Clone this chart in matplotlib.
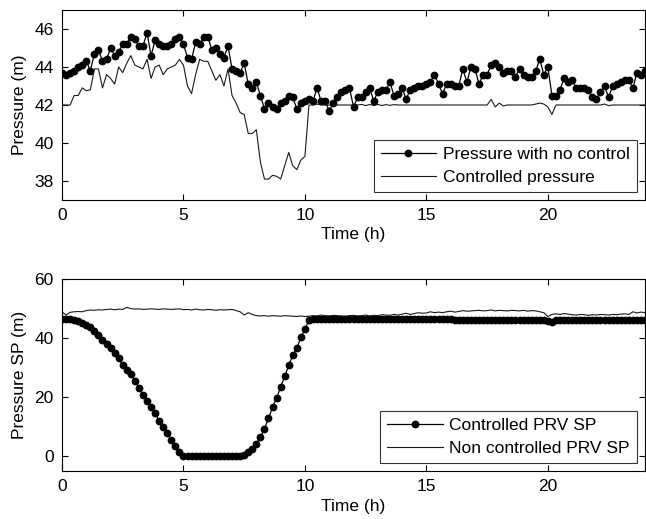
import numpy as np
import matplotlib
matplotlib.use("Agg")
import matplotlib.pyplot as plt

plt.rcParams['font.family'] = ['Liberation Sans', 'DejaVu Sans']

# time axis: 10-minute steps over 24 h
time_h = [i / 6 for i in range(145)]

p_no_control = [
    43.7, 43.6, 43.7, 43.8, 44.0, 44.1, 44.3, 43.8, 44.7, 44.9,
    44.3, 44.4, 45.0, 44.6, 44.8, 45.2, 45.2, 45.6, 45.5, 45.1,
    45.1, 45.8, 44.6, 45.4, 45.2, 45.1, 45.1, 45.2, 45.5, 45.6,
    45.2, 44.5, 44.4, 45.3, 45.2, 45.6, 45.6, 44.9, 45.0, 44.7,
    44.5, 45.1, 43.9, 43.8, 43.7, 44.2, 43.1, 42.9, 43.2, 42.5,
    41.8, 42.1, 41.9, 41.8, 42.1, 42.2, 42.5, 42.4, 41.8, 42.1,
    42.2, 42.3, 42.2, 42.9, 42.2, 42.2, 41.7, 42.1, 42.4, 42.7,
    42.8, 42.9, 41.9, 42.4, 42.4, 42.7, 42.9, 42.2, 42.7, 42.8,
    42.8, 43.2, 42.5, 42.6, 42.9, 42.3, 42.8, 42.9, 43.0, 43.0,
    43.1, 43.2, 43.6, 43.1, 42.6, 43.1, 43.1, 43.0, 43.0, 43.9,
    43.2, 44.0, 43.9, 43.1, 43.6, 43.6, 44.1, 44.2, 44.0, 43.7,
    43.8, 43.8, 43.5, 43.9, 43.6, 43.5, 43.5, 43.8, 44.4, 43.6,
    44.0, 42.5, 42.5, 42.8, 43.4, 43.2, 43.3, 42.9, 42.9, 42.9,
    42.8, 42.4, 42.3, 42.7, 43.0, 42.4, 43.0, 43.1, 43.2, 43.3,
    43.3, 42.9, 43.7, 43.6, 43.8,
]

p_controlled = [
    42.0, 42.0, 42.0, 42.5, 42.5, 42.9, 42.75, 42.8, 43.9, 43.9,
    42.9, 43.6, 43.4, 43.1, 44.0, 43.7, 44.2, 44.6, 44.1, 44.0,
    43.9, 44.4, 43.4, 44.0, 44.1, 43.6, 43.9, 44.0, 44.1, 44.4,
    44.1, 43.0, 42.6, 43.6, 44.4, 44.3, 44.3, 43.8, 43.3, 43.6,
    43.0, 43.9, 42.5, 42.1, 41.6, 41.5, 40.5, 40.5, 40.7, 39.0,
    38.1, 38.1, 38.3, 38.25, 38.1, 38.8, 39.5, 38.8, 38.6, 39.1,
    39.3, 42.0, 42.0, 42.05, 42.0, 42.0, 42.0, 42.0, 42.0, 42.0,
    42.0, 42.0, 42.0, 42.0, 42.03, 41.97, 42.03, 41.97, 42.03, 41.97,
    42.02, 41.98, 42.02, 42.0, 42.0, 42.0, 42.0, 42.0, 42.0, 42.0,
    42.0, 42.0, 42.0, 42.0, 42.0, 42.0, 42.0, 42.0, 42.0, 42.0,
    42.0, 42.0, 42.0, 42.0, 42.0, 42.0, 42.3, 41.9, 42.1, 41.95,
    42.0, 42.0, 42.0, 42.0, 42.0, 42.0, 42.0, 42.05, 42.1, 42.05,
    41.9, 41.5, 42.0, 42.0, 42.0, 42.0, 42.0, 42.0, 42.0, 42.0,
    42.0, 42.0, 42.0, 42.0, 42.05, 41.97, 42.0, 42.0, 42.0, 42.0,
    42.0, 42.0, 42.0, 42.0, 42.0,
]

sp_controlled = [
    46.3, 46.3, 46.3, 46.2, 45.8, 45.2, 44.4, 43.6, 42.5, 41.2,
    39.3, 38.0, 36.6, 35.0, 33.1, 30.8, 29.2, 27.7, 25.6, 23.2,
    20.7, 18.6, 16.8, 14.6, 11.9, 10.0, 7.7, 5.6, 3.6, 1.6,
    0.0, 0.0, 0.0, 0.0, 0.0, 0.0, 0.0, 0.0, 0.0, 0.0,
    0.0, 0.0, 0.0, 0.0, 0.0, 0.3, 1.5, 2.6, 4.3, 6.5,
    9.3, 12.8, 16.7, 19.6, 23.5, 27.0, 30.8, 34.2, 36.6, 40.2,
    43.0, 46.1, 46.3, 46.3, 46.3, 46.3, 46.3, 46.3, 46.3, 46.3,
    46.3, 46.3, 46.3, 46.3, 46.3, 46.3, 46.3, 46.3, 46.3, 46.3,
    46.3, 46.3, 46.3, 46.3, 46.3, 46.3, 46.3, 46.3, 46.3, 46.3,
    46.3, 46.3, 46.3, 46.3, 46.3, 46.3, 46.3, 46.1, 46.1, 46.1,
    46.1, 46.1, 46.1, 46.1, 46.1, 46.1, 46.1, 46.1, 46.1, 46.1,
    46.1, 46.1, 46.1, 46.1, 46.1, 46.1, 46.1, 46.1, 46.1, 46.1,
    45.9, 45.4, 46.1, 46.1, 46.1, 46.1, 46.1, 46.1, 46.1, 46.1,
    46.1, 46.1, 46.1, 46.1, 46.1, 46.1, 46.1, 46.1, 46.1, 46.1,
    46.1, 46.1, 46.1, 46.1, 46.1,
]

sp_non_controlled = [
    48.9, 47.8, 48.7, 48.9, 49.0, 48.9, 49.3, 49.5, 49.4, 49.6,
    49.5, 49.7, 49.8, 49.6, 49.8, 49.7, 50.4, 50.0, 49.8, 49.9,
    49.7, 49.8, 49.9, 49.8, 49.7, 49.9, 49.8, 49.7, 49.8, 49.9,
    49.6, 49.7, 49.5, 49.8, 49.6, 49.5, 49.7, 49.6, 49.4, 49.6,
    49.5, 49.6, 49.7, 49.3, 48.9, 47.8, 48.6, 48.0, 47.6, 47.5,
    47.6, 47.4, 47.6, 47.5, 47.4, 47.6, 47.5, 47.4, 47.3, 47.5,
    47.3, 47.4, 47.6, 47.5, 47.8, 47.6, 47.5, 47.7, 47.6, 47.5,
    47.4, 47.6, 47.7, 47.5, 47.6, 47.8, 47.5, 47.7, 47.6, 47.9,
    47.8, 47.7, 48.0, 47.8, 48.1, 48.4, 48.0, 48.3, 48.6, 48.4,
    48.5, 48.9, 48.6, 48.8, 48.6, 48.9, 49.1, 48.8, 49.0, 49.3,
    49.1, 49.2, 49.3, 49.4, 49.2, 49.3, 49.5, 49.2, 49.4, 49.3,
    49.2, 49.4, 49.3, 49.2, 49.4, 49.1, 49.3, 49.2, 48.9, 48.6,
    47.3, 48.0, 48.2, 48.0, 48.3, 48.1, 47.9, 47.8, 48.0, 47.9,
    47.7, 47.9, 47.8, 48.0, 47.9, 47.8, 48.0, 47.9, 48.1, 48.2,
    48.0, 48.9, 48.5, 48.8, 48.6,
]

xticks = [0, 5, 10, 15, 20]
yticks_top = [38, 40, 42, 44, 46]
yticks_bot = [0, 20, 40, 60]

FS = 12.5

fig = plt.figure(figsize=(6.46, 5.19), dpi=100)
ax1 = fig.add_axes([62/646, 1 - 200/519, 1 - 62/646 - 0.0015, 190/519])
ax2 = fig.add_axes([62/646, 1 - 471/519, 1 - 62/646 - 0.0015, 192/519])

ax1.plot(time_h, p_no_control, color='black', lw=0.9, marker='o',
         markersize=4.6, markerfacecolor='black', markeredgecolor='black',
         label='Pressure with no control')
ax1.plot(time_h, p_controlled, color='#1a1a1a', lw=0.8, label='Controlled pressure')
ax1.set_xlim(0, 24)
ax1.set_ylim(37, 47)
ax1.set_yticks(yticks_top)
ax1.set_xlabel('Time (h)', fontsize=FS, labelpad=3)
ax1.set_ylabel('Pressure (m)', fontsize=FS, labelpad=5)

ax2.plot(time_h, sp_controlled, color='black', lw=0.9, marker='o',
         markersize=4.6, markerfacecolor='black', markeredgecolor='black',
         label='Controlled PRV SP')
ax2.plot(time_h, sp_non_controlled, color='#1a1a1a', lw=0.8, label='Non controlled PRV SP')
ax2.set_xlim(0, 24)
ax2.set_ylim(-5, 60)
ax2.set_yticks(yticks_bot)
ax2.set_xlabel('Time (h)', fontsize=FS, labelpad=3)
ax2.set_ylabel('Pressure SP (m)', fontsize=FS, labelpad=5)

for ax in (ax1, ax2):
    ax.set_xticks(xticks)
    ax.tick_params(direction='in', top=True, right=True, labelsize=FS,
                   length=4, width=0.8, pad=6)
    for s in ax.spines.values():
        s.set_linewidth(0.8)
    leg = ax.legend(loc='lower right', fontsize=FS, frameon=True, fancybox=False,
                    edgecolor='black', handlelength=3.2, borderpad=0.4,
                    labelspacing=0.45, handletextpad=0.4, borderaxespad=0.3,
                    bbox_to_anchor=(0.995, 0.015))
    leg.get_frame().set_linewidth(0.8)

fig.savefig('out.png', dpi=100)
